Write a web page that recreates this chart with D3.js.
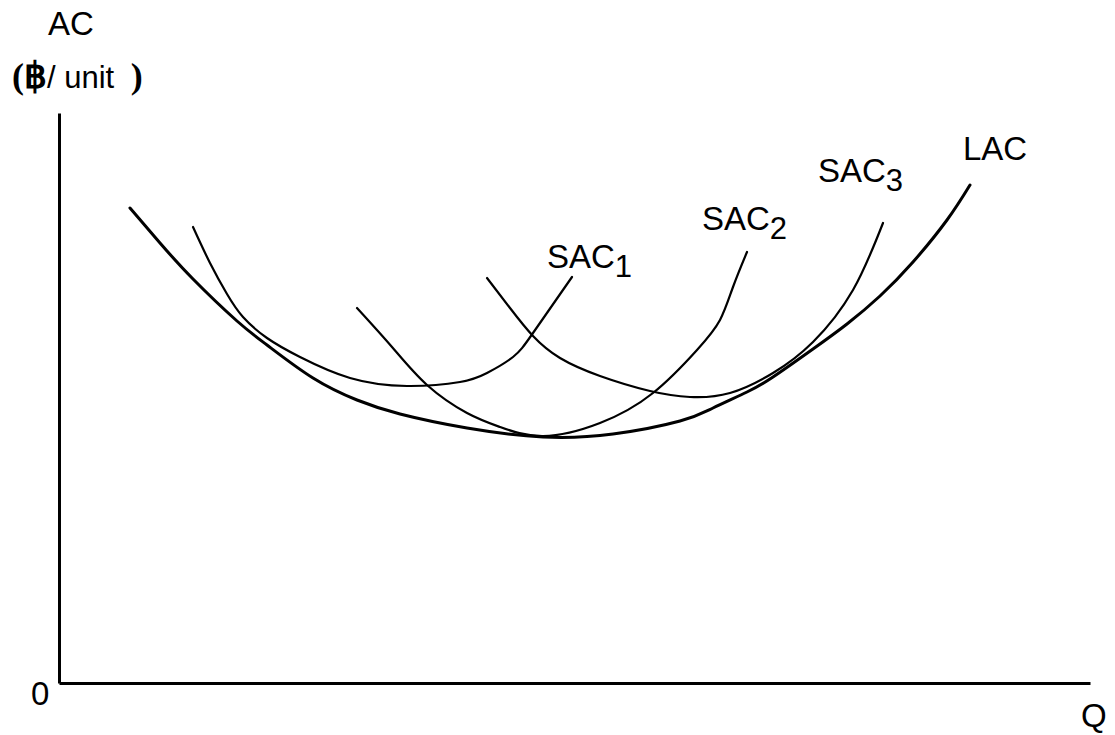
<!DOCTYPE html>
<html>
<head>
<meta charset="utf-8">
<script src="https://cdn.jsdelivr.net/npm/d3@7"></script>
<style>
  body { margin: 0; background: #fff; }
  svg text { font-family: "Liberation Sans", Arial, sans-serif; fill: #000; }
</style>
</head>
<body>
<div id="chart"></div>
<script>
// Long-run average cost curve with three short-run average cost curves

// Curve data, Q vs AC
const lacQ  = [7.1, 10.1, 13.4, 17.8, 20.8, 25.4, 29.8, 34.1, 40.8, 48.4, 55.4, 62.1, 65.4, 68.8, 71.4, 75.4, 78.8, 82.1, 85.4, 88.8, 91.1];
const lacAC = [47.5, 44.0, 40.4, 36.2, 33.8, 30.5, 28.3, 26.9, 25.5, 24.6, 24.9, 26.2, 27.5, 29.1, 30.6, 33.4, 35.9, 38.7, 42.1, 46.3, 49.8];

const sac1Q  = [13.4, 15.1, 16.8, 18.4, 20.8, 24.1, 29.1, 34.8, 40.1, 42.8, 45.4, 47.4, 51.3];
const sac1AC = [45.6, 42.0, 38.9, 36.6, 34.5, 32.6, 30.5, 29.7, 30.1, 31.0, 32.6, 35.0, 40.6];

const sac2Q  = [29.8, 33.3, 36.8, 40.8, 44.1, 48.4, 54.1, 59.4, 63.8, 66.1, 67.4, 68.8];
const sac2AC = [37.5, 33.6, 29.8, 27.0, 25.6, 24.7, 26.0, 29.0, 33.3, 36.3, 39.6, 43.1];

const sac3Q  = [42.8, 45.1, 47.4, 50.1, 54.1, 59.1, 63.1, 67.1, 71.4, 75.4, 79.4, 82.4];
const sac3AC = [40.5, 37.5, 34.7, 32.5, 30.7, 29.2, 28.6, 29.0, 31.0, 34.1, 39.3, 46.0];

const curveNames = ['SAC', 'SAC', 'SAC', 'LAC'];
const curveSubs = ['1', '2', '3', ''];

const W = 1115, H = 735;
const svg = d3.select('#chart').append('svg')
  .attr('width', W).attr('height', H);

// scales: 10px per unit
const x = d3.scaleLinear().domain([0, 103.1]).range([59, 1090]);
const y = d3.scaleLinear().domain([0, 57]).range([683, 113]);

// axes (plain lines, no ticks)
const xAxis = d3.axisBottom(x).tickValues([]).tickSizeOuter(0);
const yAxis = d3.axisLeft(y).tickValues([]).tickSizeOuter(0);
svg.append('g').attr('transform', `translate(0,${y(0)})`).call(xAxis)
  .select('.domain').attr('stroke', '#000').attr('stroke-width', 3);
svg.append('g').attr('transform', `translate(${x(0)},0)`).call(yAxis)
  .select('.domain').attr('stroke', '#000').attr('stroke-width', 3);

const line = d3.line()
  .x(d => x(d[0])).y(d => y(d[1]))
  .curve(d3.curveNatural);

const curves = [
  { q: sac1Q, ac: sac1AC, w: 2.2, off: [-25, -9] },
  { q: sac2Q, ac: sac2AC, w: 2.2, off: [-45, -22] },
  { q: sac3Q, ac: sac3AC, w: 2.2, off: [-65, -41] },
  { q: lacQ,  ac: lacAC,  w: 3,   off: [-7, -25] }
];

curves.forEach((c, i) => {
  const pts = c.q.map((q, j) => [q, c.ac[j]]);
  svg.append('path')
    .datum(pts)
    .attr('d', line)
    .attr('fill', 'none')
    .attr('stroke', '#000')
    .attr('stroke-width', c.w)
    .attr('stroke-linecap', 'round');

  // label near the curve's upper end
  const last = pts[pts.length - 1];
  const t = svg.append('text')
    .attr('x', x(last[0]) + c.off[0])
    .attr('y', y(last[1]) + c.off[1])
    .attr('font-size', 33)
    .text(curveNames[i]);
  if (curveSubs[i]) {
    t.append('tspan').attr('dy', 9).attr('font-size', 31).text(curveSubs[i]);
  }
});

// axis titles
svg.append('text').attr('x', 48).attr('y', 35).attr('font-size', 33).text('AC');
const unit = svg.append('text').attr('x', 12).attr('y', 88).attr('font-size', 31);
unit.append('tspan')
  .style('font-family', '"Liberation Serif", "Times New Roman", serif')
  .attr('font-size', 36)
  .attr('font-weight', 'bold').text('(฿');
unit.append('tspan').text('/ unit ');
unit.append('tspan')
  .style('font-family', '"Liberation Serif", "Times New Roman", serif')
  .attr('font-size', 36).attr('dx', 8)
  .attr('font-weight', 'bold').text(')');

svg.append('text').attr('x', 31).attr('y', 705).attr('font-size', 33).text('0');
svg.append('text').attr('x', 1081).attr('y', 727).attr('font-size', 33).text('Q');
</script>
</body>
</html>
